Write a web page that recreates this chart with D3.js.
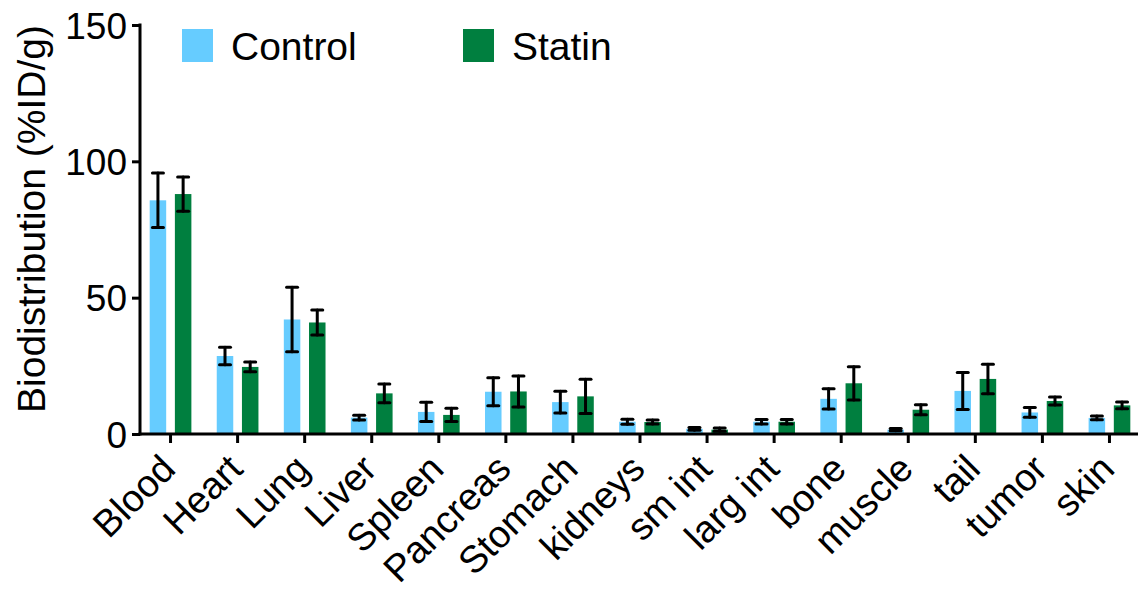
<!DOCTYPE html>
<html>
<head>
<meta charset="utf-8">
<script src="https://cdn.jsdelivr.net/npm/d3@7"></script>
<style>
  html, body { margin: 0; padding: 0; background: #fff; }
  svg { display: block; font-family: "Liberation Sans", Arial, Helvetica, sans-serif; }
</style>
</head>
<body>
<svg id="chart" width="1138" height="590"></svg>
<script>
const categories = ["Blood","Heart","Lung","Liver","Spleen","Pancreas","Stomach","kidneys","sm int","larg int","bone","muscle","tail","tumor","skin"];
const seriesNames = ["Control","Statin"];
const controlValues = [85.7, 28.6, 42.0, 6.0, 8.1, 15.5, 11.7, 4.5, 1.9, 4.5, 12.9, 1.6, 15.8, 7.9, 5.9];
const controlErrors = [10.0, 3.2, 11.8, 0.9, 3.5, 5.1, 4.0, 0.9, 0.5, 0.8, 3.7, 0.4, 6.8, 1.8, 0.7];
const statinValues  = [88.0, 24.6, 40.9, 14.9, 7.0, 15.6, 13.8, 4.4, 1.6, 4.5, 18.6, 8.9, 20.2, 12.1, 10.5];
const statinErrors  = [6.3, 1.8, 4.6, 3.4, 2.4, 5.7, 6.3, 0.7, 0.6, 0.8, 6.1, 1.8, 5.4, 1.5, 1.2];
const yTicks = [0, 50, 100, 150];
const colors = {"Control": "#66CCFF", "Statin": "#007F3F"};
const yLabel = "Biodistribution (%ID/g)";

const svg = d3.select("#chart");
const x0 = 137, x1 = 1143, yTop = 25, yBottom = 434;

const x = d3.scaleBand().domain(categories).range([x0, x1]).padding(0);
const xs = d3.scaleBand().domain(seriesNames).range([-20.85, 20.85]).paddingInner(0.345).paddingOuter(0);
const y = d3.scaleLinear().domain([0, 150]).range([yBottom, yTop]);

const rows = categories.map((c, i) => ({
  cat: c,
  vals: [
    {s: "Control", v: controlValues[i], e: controlErrors[i]},
    {s: "Statin", v: statinValues[i], e: statinErrors[i]}
  ]
}));

// bars
const g = svg.append("g");
const groups = g.selectAll("g.cat").data(rows).join("g")
  .attr("transform", d => `translate(${x(d.cat) + x.bandwidth()/2},0)`);
groups.selectAll("rect").data(d => d.vals).join("rect")
  .attr("x", d => xs(d.s))
  .attr("width", xs.bandwidth())
  .attr("y", d => y(d.v))
  .attr("height", d => y(0) - y(d.v))
  .attr("fill", d => colors[d.s]);

// error bars
const capW = 11;
const eb = groups.selectAll("g.err").data(d => d.vals).join("g")
  .attr("transform", d => `translate(${xs(d.s) + xs.bandwidth()/2},0)`)
  .attr("stroke", "#000").attr("stroke-width", 3).attr("stroke-linecap", "round");
eb.append("line").attr("x1", 0).attr("x2", 0)
  .attr("y1", d => y(d.v + d.e)).attr("y2", d => y(Math.max(0, d.v - d.e)));
eb.append("line").attr("x1", -capW/2).attr("x2", capW/2)
  .attr("y1", d => y(d.v + d.e)).attr("y2", d => y(d.v + d.e));
eb.append("line").attr("x1", -capW/2).attr("x2", capW/2)
  .attr("y1", d => y(Math.max(0, d.v - d.e))).attr("y2", d => y(Math.max(0, d.v - d.e)));

// y axis
const yAxis = d3.axisLeft(y).tickValues(yTicks).tickSize(8).tickPadding(5).tickFormat(d3.format("d"));
const yg = svg.append("g").attr("transform", `translate(${x0 + 3},0)`).call(yAxis);
yg.select(".domain").remove();
yg.append("line").attr("x1", 0).attr("x2", 0).attr("y1", yTop - 1.5).attr("y2", yBottom + 1.5)
  .attr("stroke", "#000").attr("stroke-width", 3);
yg.selectAll(".tick line").attr("stroke", "#000").attr("stroke-width", 3);
yg.selectAll(".tick text").attr("font-size", 37).attr("fill", "#000")
  .attr("font-family", "Liberation Sans, Arial, sans-serif").attr("dy", "0.36em");

// x axis
const xAxis = d3.axisBottom(x).tickSize(9).tickFormat("");
const xg = svg.append("g").attr("transform", `translate(0,${yBottom})`).call(xAxis);
xg.select(".domain").remove();
xg.append("line").attr("x1", x0 + 1.5).attr("x2", 1138).attr("y1", 0).attr("y2", 0)
  .attr("stroke", "#000").attr("stroke-width", 3);
xg.selectAll(".tick line").attr("stroke", "#000").attr("stroke-width", 3);
xg.selectAll(".tick").append("text")
  .attr("transform", "translate(7,37) rotate(-45)")
  .attr("text-anchor", "end")
  .attr("font-size", 38)
  .attr("fill", "#000")
  .text(d => d);

// y label
svg.append("text")
  .attr("transform", `translate(45,219) rotate(-90)`)
  .attr("text-anchor", "middle")
  .attr("font-size", 39)
  .attr("fill", "#000")
  .text(yLabel);

// legend
const legendX = [182, 463];
const leg = svg.append("g").selectAll("g").data(seriesNames).join("g")
  .attr("transform", (d, i) => `translate(${legendX[i]},29)`);
leg.append("rect").attr("width", 31).attr("height", 33).attr("fill", d => colors[d]);
leg.append("text").attr("x", 49).attr("y", 31).attr("font-size", 39).attr("fill", "#000").text(d => d);
</script>
</body>
</html>
